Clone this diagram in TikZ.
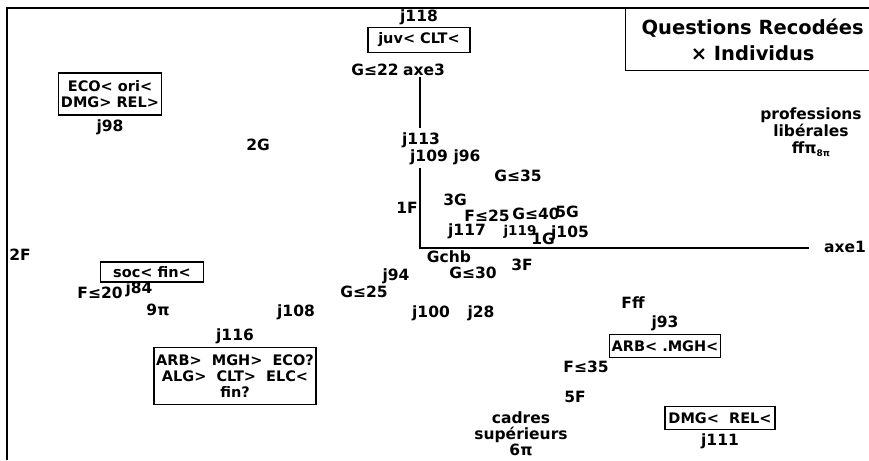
\documentclass[tikz,border=0pt]{standalone}
\usepackage{fontspec}
\setmainfont{DejaVu Sans}
\usetikzlibrary{positioning}

\begin{document}
\begin{tikzpicture}[x=1pt,y=-1pt,
    lab/.style={font=\fontsize{15.5}{17}\selectfont\bfseries, inner sep=1pt},
    boite/.style={draw, line width=1.4pt, font=\fontsize{14.5}{16}\selectfont\bfseries,
      align=center, inner sep=2pt, minimum height=23pt},
    axe/.style={line width=2pt}]
    \useasboundingbox (0,0) rectangle (869,460);

    \draw[axe] (7,460) -- (7,8) -- (869,8);
    \node[draw, line width=1.4pt, anchor=north west, minimum width=254pt, minimum height=62pt,
      align=center, font=\fontsize{19.5}{26}\selectfont\bfseries] (titre) at (625,8)
      {Questions Recodées\\ × Individus};

    \node[boite, minimum width=102pt, minimum height=25pt] (juv) at (419,40) {juv< CLT<};
    \node[lab, above=1pt of juv] (j118) {j118};
    \node[lab] (axe3) at (424,70) {axe3};
    \node[lab] (G22) at (375,70) {G≤22};
    \coordinate (O) at (420,248);
    \node[lab] (axe1) at (845,247) {axe1};
    \draw[axe] (axe3.south -| O) -- (O) -- ([xshift=-14pt]axe1.west |- O);

    \node[boite, minimum width=103pt, minimum height=42pt] (eco) at (110,94) {ECO< ori<\\ DMG> REL>};
    \node[lab, below=3pt of eco] (j98) {j98};
    \node[lab] (2G) at (258,145) {2G};
    \node[lab, fill=white, inner sep=4pt] (j113) at (421,140) {j113};
    \node[lab, fill=white, inner sep=3pt] (j109) at (429,157) {j109};
    \node[lab] (j96) at (467,157) {j96};
    \node[lab, align=center] (prof) at (811,132) {professions\\ libérales\\ ffπ\raisebox{-3pt}{\small 8π}};

    \node[lab] (G35) at (518,176) {G≤35};
    \node[lab] (1F) at (407,208) {1F};
    \node[lab] (3G) at (455,200) {3G};
    \node[lab] (F25) at (487,216) {F≤25};
    \node[lab] (G40) at (536,214) {G≤40};
    \node[lab] (5G) at (567,212) {5G};
    \node[lab] (j117) at (467,231) {j117};
    \node[lab, font=\fontsize{13.5}{14}\selectfont\bfseries] (j119) at (520,232) {j119};
    \node[lab] (1G) at (543,239) {1G};
    \node[lab] (j105) at (570,233) {j105};
    \node[lab] (Gchb) at (449,257) {Gchb};
    \node[lab] (3F) at (522,265) {3F};
    \node[lab] (G30) at (473,273) {G≤30};
    \node[lab] (j94) at (396,276) {j94};
    \node[lab] (G25) at (364,292) {G≤25};
    \node[lab] (j100) at (431,313) {j100};
    \node[lab] (j28) at (481,313) {j28};

    \node[lab] (2F) at (20,255) {2F};
    \node[boite, minimum width=103pt, minimum height=20pt] (soc) at (152,272) {soc< fin<};
    \node[lab] (F20) at (100,293) {F≤20};
    \node[lab] (j84) at (139,289) {j84};
    \node[lab] (9p) at (158,310) {9π};
    \node[lab] (j108) at (296,312) {j108};
    \node[boite, minimum width=156pt, minimum height=57pt] (arb) at (235,376)
      {ARB>\ \ MGH>\ \ ECO?\\ ALG>\ \ CLT>\ \ ELC<\\ fin?};
    \node[lab, above=2pt of arb] (j116) {j116};

    \node[lab] (Fff) at (633,303) {Fff};
    \node[boite, minimum width=105pt] (mgh) at (665,346) {ARB< .MGH<};
    \node[lab, above=2pt of mgh] (j93) {j93};
    \node[lab] (F35) at (586,367) {F≤35};
    \node[lab] (5F) at (575,397) {5F};
    \node[lab, align=center, font=\fontsize{15.5}{16}\selectfont\bfseries] (cadres) at (521,434)
      {cadres\\ supérieurs\\ 6π};
    \node[boite, minimum width=110pt] (dmg) at (720,418) {DMG<\ \ REL<};
    \node[lab, below=2pt of dmg] (j111) {j111};
\end{tikzpicture}
\end{document}
